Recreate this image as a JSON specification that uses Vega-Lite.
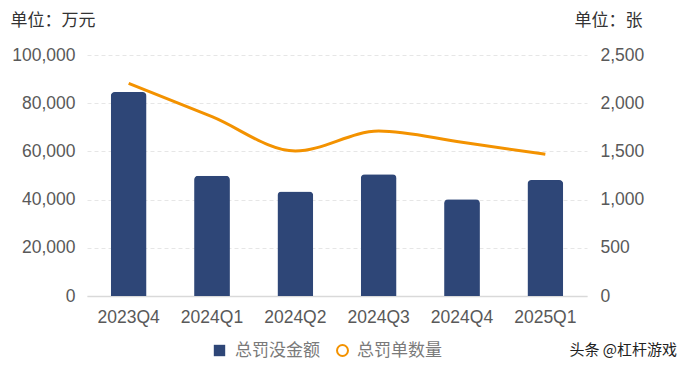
{
  "$schema": "https://vega.github.io/schema/vega-lite/v6.json",
  "width": 500,
  "height": 241,
  "autosize": {"type": "none"},
  "padding": {"left": 87, "top": 55, "right": 101, "bottom": 73},
  "background": "white",
  "config": {
    "view": {"stroke": null},
    "font": "Liberation Sans, Noto Sans CJK SC",
    "axis": {"labelFont": "Liberation Sans, Noto Sans CJK SC", "labelFontSize": 17.5, "labelColor": "#595959", "labelOverlap": false, "titleFont": "Noto Sans CJK SC", "titleFontSize": 17, "titleColor": "#333333", "titleFontWeight": "normal"}
  },
  "title": {
    "text": "头条 @杠杆游戏",
    "orient": "bottom",
    "anchor": "end",
    "align": "right",
    "baseline": "top",
    "frame": "group",
    "dx": 90,
    "offset": -17,
    "font": "Noto Sans CJK SC",
    "fontSize": 15,
    "fontWeight": "normal",
    "color": "#222222"
  },
  "data": {
    "values": [
      {"quarter": "2023Q4", "amount": 84600, "count": 2205, "series": "总罚没金额", "series2": "总罚单数量"},
      {"quarter": "2024Q1", "amount": 49900, "count": 1860, "series": "总罚没金额", "series2": "总罚单数量"},
      {"quarter": "2024Q2", "amount": 43400, "count": 1504, "series": "总罚没金额", "series2": "总罚单数量"},
      {"quarter": "2024Q3", "amount": 50500, "count": 1711, "series": "总罚没金额", "series2": "总罚单数量"},
      {"quarter": "2024Q4", "amount": 40100, "count": 1594, "series": "总罚没金额", "series2": "总罚单数量"},
      {"quarter": "2025Q1", "amount": 48100, "count": 1470, "series": "总罚没金额", "series2": "总罚单数量"}
    ]
  },
  "encoding": {
    "x": {
      "field": "quarter", "type": "ordinal", "sort": null,
      "scale": {"paddingInner": 0.57, "paddingOuter": 0.285},
      "axis": {"title": null, "labelAngle": 0, "ticks": false, "domainColor": "#D9D9D9", "domainWidth": 1.5, "labelPadding": 12}
    }
  },
  "layer": [
    {
      "mark": {"type": "bar", "cornerRadiusTopLeft": 4, "cornerRadiusTopRight": 4},
      "encoding": {
        "y": {
          "field": "amount", "type": "quantitative",
          "scale": {"domain": [0, 100000]},
          "axis": {
            "title": "单位：万元", "titleAngle": 0, "titleX": -77, "titleY": -35, "titleAlign": "left", "titleBaseline": "middle",
            "values": [0, 20000, 40000, 60000, 80000, 100000], "format": ",d",
            "domain": false, "ticks": false, "labelPadding": 12,
            "grid": true, "gridColor": "#E6E6E6", "gridDash": [4, 3], "gridWidth": 1
          }
        },
        "color": {
          "field": "series", "type": "nominal",
          "scale": {"domain": ["总罚没金额"], "range": ["#2E4677"]},
          "legend": {
            "title": null, "orient": "none", "direction": "horizontal",
            "legendX": 124, "legendY": 287,
            "labelFont": "Noto Sans CJK SC", "labelFontSize": 17, "labelColor": "#7A7A7A",
            "symbolType": "square", "symbolSize": 130, "labelOffset": 7
          }
        }
      }
    },
    {
      "mark": {"type": "line", "strokeWidth": 3, "interpolate": "monotone"},
      "encoding": {
        "y": {
          "field": "count", "type": "quantitative",
          "scale": {"domain": [0, 2500]},
          "axis": {
            "orient": "right",
            "title": "单位：张", "titleAngle": 0, "titleX": 55, "titleY": -35, "titleAlign": "right", "titleBaseline": "middle",
            "values": [0, 500, 1000, 1500, 2000, 2500], "format": ",d",
            "domain": false, "ticks": false, "labelPadding": 13, "grid": false
          }
        },
        "stroke": {
          "field": "series2", "type": "nominal",
          "scale": {"domain": ["总罚单数量"], "range": ["#F39200"]},
          "legend": {
            "title": null, "orient": "none", "direction": "horizontal",
            "legendX": 247, "legendY": 287,
            "labelFont": "Noto Sans CJK SC", "labelFontSize": 17, "labelColor": "#7A7A7A",
            "symbolType": "circle", "symbolSize": 120, "symbolStrokeWidth": 2, "symbolFillColor": "white", "labelOffset": 6
          }
        }
      }
    }
  ],
  "resolve": {"scale": {"y": "independent"}}
}
